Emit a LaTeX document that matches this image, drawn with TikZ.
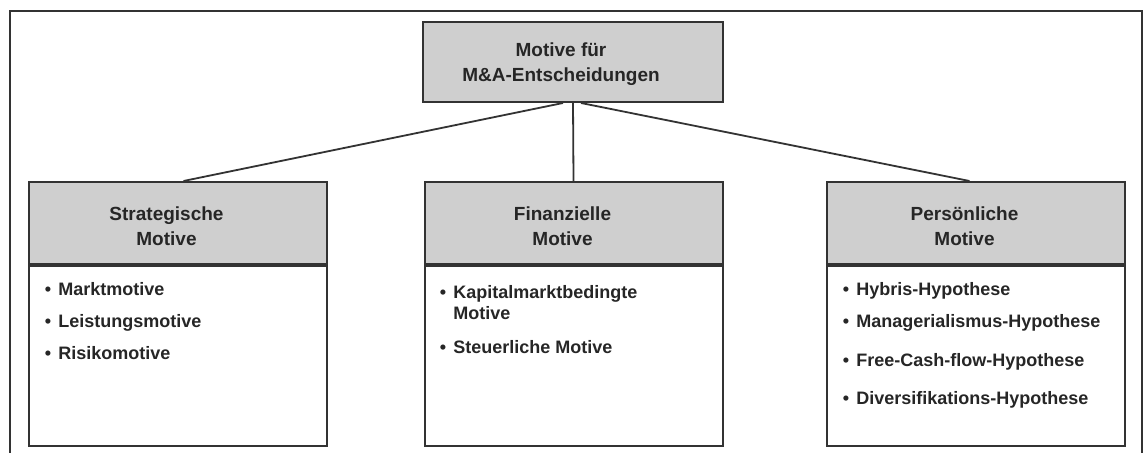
\documentclass[tikz,border=0pt]{standalone}
\usepackage{fontspec}
\setmainfont{Liberation Sans}
\definecolor{boxgray}{HTML}{CFCFCF}
\definecolor{linegray}{HTML}{333333}
\begin{document}
\begin{tikzpicture}[x=0.5pt,y=-0.5pt,
  box/.style={draw=linegray,line width=1pt,rectangle,inner sep=0pt,minimum width=149pt},
  headbox/.style={box,fill=boxgray,minimum height=41pt},
  bodybox/.style={box,fill=white,minimum height=90pt},
  head/.style={font=\bfseries\fontsize{9.5}{12.5}\selectfont,align=center,text=black!85},
  item/.style={anchor=base west,inner sep=0pt,font=\bfseries\fontsize{9}{10.5}\selectfont,text=black!85},
  conn/.style={draw=linegray,line width=0.9pt}]
\useasboundingbox (0,0) rectangle (1143,453);
\clip (0,0) rectangle (1143,453);
\fill[white] (0,0) rectangle (1143,453);
% outer frame
\draw[linegray,line width=1pt] (10,470) -- (10,11) -- (1142,11) -- (1142,470);
% top node
\node[box,fill=boxgray,minimum width=150pt,minimum height=40pt,
  label={[head,xshift=-6pt,yshift=-1pt]center:{Motive für\\M\&A-Entscheidungen}}] (top) at (573,62) {};
% headers
\node[headbox,label={[head,xshift=-5.5pt,yshift=-1.5pt]center:{Strategische\\Motive}}] (lh) at (177.5,223) {};
\node[headbox,label={[head,xshift=-5.5pt,yshift=-1.5pt]center:{Finanzielle\\Motive}}] (mh) at (573.5,223) {};
\node[headbox,label={[head,xshift=-5.5pt,yshift=-1.5pt]center:{Persönliche\\Motive}}] (rh) at (975.5,223) {};
% bodies
\node[bodybox,anchor=north] (lb) at (lh.south) {};
\node[bodybox,anchor=north] (mb) at (mh.south) {};
\node[bodybox,anchor=north] (rb) at (rh.south) {};
% connectors
\draw[conn] ([xshift=-5pt]top.south) -- ([xshift=3pt]lh.north);
\draw[conn] (top.south) -- (mh.north);
\draw[conn] ([xshift=4pt]top.south) -- ([xshift=-3pt]rh.north);
% items
\newcommand{\itm}[1]{\llap{\textbullet\hspace{3.6pt}}#1}
\node[item] (l1) at (58,295.5) {\itm{Marktmotive}};
\node[item] (l2) at (58,327.5) {\itm{Leistungsmotive}};
\node[item] (l3) at (58,359.5) {\itm{Risikomotive}};
\node[item] (m1) at (453,298.5) {\itm{Kapitalmarktbedingte}};
\node[item] (m1b) at (453,319.5) {Motive};
\node[item] (m2) at (453,353.5) {\itm{Steuerliche Motive}};
\node[item] (r1) at (856,295.5) {\itm{Hybris-Hypothese}};
\node[item] (r2) at (856,327.5) {\itm{Managerialismus-Hypothese}};
\node[item] (r3) at (856,366.5) {\itm{Free-Cash-flow-Hypothese}};
\node[item] (r4) at (856,404.5) {\itm{Diversifikations-Hypothese}};
\end{tikzpicture}
\end{document}
